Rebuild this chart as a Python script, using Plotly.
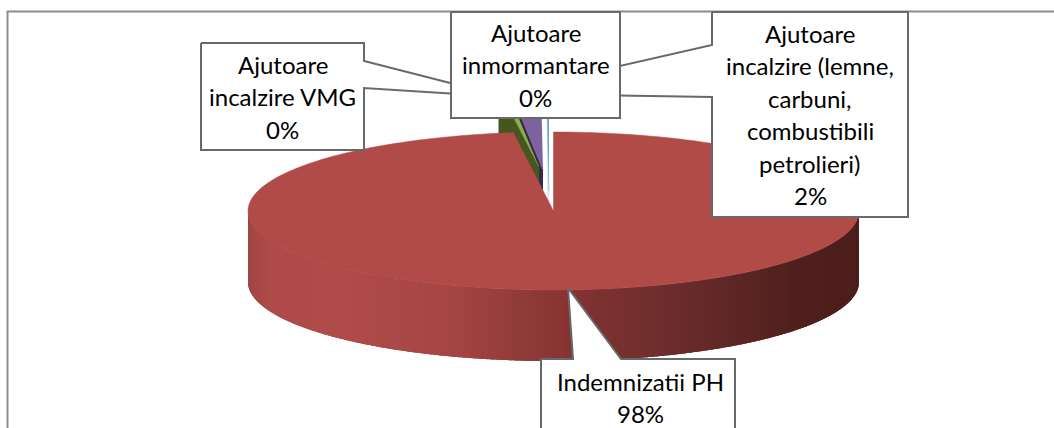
import numpy as np
import plotly.graph_objects as go

# ---- data ----
categories = ["Indemnizatii PH", "Ajutoare incalzire VMG",
              "Ajutoare incalzire (lemne, carbuni, combustibili petrolieri)",
              "Ajutoare inmormantare"]
values = [97.9, 0.4, 1.6, 0.1]
top_colors = ["#b04b48", "#8bb04a", "#7f63a1", "#6fa8c4"]
wall_colors = ["#b04b48", "#46561f", "#36294f", "#dce8f0"]
label_ph = ["Indemnizatii PH", "98%"]
label_vmg = ["Ajutoare", "incalzire VMG", "0%"]
label_inm = ["Ajutoare", "inmormantare", "0%"]
label_lemne = ["Ajutoare", "incalzire (lemne,", "carbuni,", "combustibili", "petrolieri)", "2%"]

# ---- layout geometry (page pixels) ----
W, H = 1054, 428
CX, CY, RX, RY, DEPTH = 553.5, 211.0, 305.5, 79.0, 71.0
EDGE = "#666a6a"
FONT = "Lato"
FS = 24
LINE_H = 32.5
# exploded apex of each small slice, relative to the pie centre
apex_offset = {1: (-14.5, -44.0), 2: (-10.5, -41.0), 3: (-4.5, -20.0)}

# clockwise angle from 12 o'clock, in radians
ends = np.cumsum(values) / sum(values) * 2 * np.pi
starts = np.concatenate([[0.0], ends[:-1]])


def ell(theta, cx=CX, cy=CY):
    return cx + RX * np.sin(theta), cy - RY * np.cos(theta)


fig = go.Figure()


def poly(xs, ys, fill, line=None, width=1.0):
    fig.add_trace(go.Scatter(x=list(xs), y=list(ys), mode="lines", fill="toself",
                             fillcolor=fill, hoverinfo="skip", showlegend=False,
                             line=dict(color=line or fill, width=width, simplify=False)))


def small_slice(i):
    ax, ay = CX + apex_offset[i][0], CY + apex_offset[i][1]
    t = np.linspace(starts[i], ends[i], 8)
    ex, ey = ell(t, ax, ay)
    # radial face, seen through the gap
    poly([ax, ex[0], ex[0], ax], [ay, ey[0], ey[0] + DEPTH, ay + DEPTH], wall_colors[i], width=0.5)
    # top surface
    poly(np.r_[ax, ex], np.r_[ay, ey], top_colors[i], width=0.5)


# small slices, back to front
small_slice(3)
small_slice(2)
small_slice(1)

# outer wall of the big slice: shaded in overlapping strips along x
wall_x = [248, 256, 270, 350, 450, 530, 570, 590, 700, 800, 859]
wall_rgb = [(156, 69, 68), (166, 72, 70), (174, 75, 73), (175, 75, 73), (165, 70, 68),
            (142, 58, 56), (134, 50, 49), (126, 50, 49), (101, 42, 41), (79, 31, 29), (77, 30, 28)]
grid = np.linspace(np.pi / 2, 3 * np.pi / 2, 161)
step = grid[1] - grid[0]
for a in grid[:-1]:
    b = min(a + 2.5 * step, grid[-1])
    t = np.linspace(a, b, 5)
    x, y = ell(t)
    xm = ell(a + 0.5 * step)[0]
    rgb = [int(round(np.interp(xm, wall_x, [c[k] for c in wall_rgb]))) for k in range(3)]
    col = "rgb(%d,%d,%d)" % tuple(rgb)
    poly(np.r_[x, x[::-1]], np.r_[y, y[::-1] + DEPTH], col, width=0)

# top surface of the big slice
t0 = np.linspace(starts[0], ends[0], 361)
x0, y0 = ell(t0)
poly(np.r_[CX, x0, CX], np.r_[CY, y0, CY], top_colors[0], width=0.5)

# chart frame (top and left only)
fig.add_trace(go.Scatter(x=[7.5, 7.5, W], y=[H, 11.5, 11.5], mode="lines", hoverinfo="skip",
                         showlegend=False, line=dict(color="#8c8c8c", width=2)))

# callouts
lemne_box = ([712, 908, 908, 712, 712, 499, 712, 712], [12, 12, 217, 217, 97, 93.6, 45, 12])
vmg_box = ([201, 364, 364, 505, 364, 364, 201, 201], [43, 43, 61, 97, 88, 150, 150, 43])
inm_box = ([451, 620, 620, 451, 451], [12, 12, 118, 118, 12])
ph_box = ([541, 573, 568, 621, 735, 735, 541, 541], [359, 359, 288, 359, 359, 440, 440, 359])
for bx, by in (lemne_box, vmg_box, inm_box, ph_box):
    poly(bx, by, "#ffffff", line=EDGE, width=2)

annots = []


def add_label(lines, xc, y_first):
    for k, s in enumerate(lines):
        annots.append(dict(x=xc, y=y_first + k * LINE_H, xref="x", yref="y", text=s, showarrow=False,
                           xanchor="center", yanchor="middle",
                           font=dict(family=FONT, size=FS, color="#000000")))


add_label(label_vmg, 282.5, 64)
add_label(label_inm, 535.5, 32)
add_label(label_lemne, 810, 33)
add_label(label_ph, 640.5, 381)

fig.update_layout(
    width=W, height=H, margin=dict(l=0, r=0, t=0, b=0),
    paper_bgcolor="#ffffff", plot_bgcolor="#ffffff", showlegend=False,
    xaxis=dict(range=[0, W], visible=False, fixedrange=True),
    yaxis=dict(range=[H, 0], visible=False, fixedrange=True),
    annotations=annots,
)
fig.write_html("out.html", config={"displayModeBar": False},
               post_script="document.body.style.margin='0';document.body.style.overflow='hidden';")
